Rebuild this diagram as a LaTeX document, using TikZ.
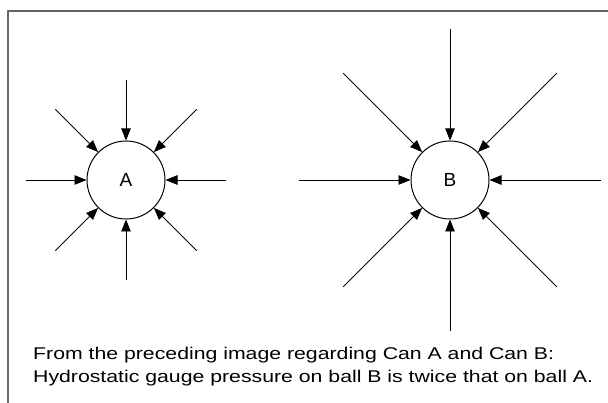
\documentclass[tikz,border=0pt]{standalone}
\usepackage{fontspec}
\setmainfont{Liberation Sans}
\newfontfamily\capfont[FakeStretch=1.25]{Liberation Sans}
\usetikzlibrary{arrows.meta,calc}
\definecolor{FrameClr}{rgb}{0.4,0.4,0.4}

\begin{document}
\begin{tikzpicture}[x=1pt,y=-1pt,
  ball/.style={draw,circle,line width=1pt,minimum size=78pt,inner sep=0pt,font=\fontsize{19}{19}\selectfont},
  force/.style={line width=0.8pt,-{Triangle[length=12pt,width=9.5pt]}}]
\useasboundingbox (0,0) rectangle (608,403);

% open frame
\draw[FrameClr,line width=1.5pt] (8,403) -- (8,11) -- (608,11);

\node[ball] (A) at (126,180) {A};
\node[ball] (B) at (450,180) {B};

\foreach \ang in {0,45,...,315}{
  \coordinate (a\ang) at ($(A)+(\ang:100)$);
  \coordinate (b\ang) at ($(B)+(\ang:151)$);
  \draw[force] (a\ang) -- (A);
  \draw[force] (b\ang) -- (B);
}

\node[anchor=base west,align=left,inner sep=0pt,font=\capfont\fontsize{17}{22.5}\selectfont] (txt) at (33,382)
  {From the preceding image regarding Can A and Can B:\\
   Hydrostatic gauge pressure on ball B is twice that on ball A.};

\end{tikzpicture}
\end{document}
